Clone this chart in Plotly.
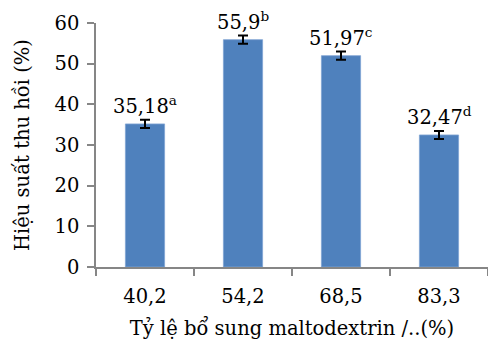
import plotly.graph_objects as go

# Recovery yield at each maltodextrin addition level
categories = ["40,2", "54,2", "68,5", "83,3"]
yield_pct = [35.18, 55.9, 51.97, 32.47]
yield_err = [1.0, 1.0, 1.0, 1.0]
letters = ["a", "b", "c", "d"]

FONT = "DejaVu Serif"
SIZE = 19.5
BAR = "#4F81BD"
AXIS = "#868686"

fig = go.Figure()
fig.add_trace(go.Bar(
    x=categories,
    y=yield_pct,
    marker=dict(color=BAR, line=dict(color="#7FA3D3", width=0.8)),
    error_y=dict(type="data", array=yield_err, visible=True,
                 color="black", thickness=2, width=5),
))

# value labels with significance letters above each error bar
for c, v, e, s in zip(categories, yield_pct, yield_err, letters):
    label = f"{v:g}".replace(".", ",")
    fig.add_annotation(
        x=c, y=v + e, text=f"{label}<sup>{s}</sup>",
        showarrow=False, yanchor="bottom", yshift=0,
        font=dict(family=FONT, size=SIZE, color="black"),
    )

fig.update_layout(
    width=488, height=349,
    margin=dict(l=96, r=0, t=23, b=82),
    paper_bgcolor="white", plot_bgcolor="white",
    bargap=0.6, showlegend=False,
    font=dict(family=FONT, size=SIZE, color="black"),
)
fig.update_xaxes(
    showline=True, linecolor=AXIS, linewidth=1.5,
    ticks="outside", tickson="boundaries", ticklen=7,
    tickcolor=AXIS, tickwidth=1.5, ticklabelstandoff=11,
    tickfont=dict(family=FONT, size=SIZE, color="black"),
    title=dict(text="Tỷ lệ bổ sung maltodextrin /..(%)",
               font=dict(family=FONT, size=SIZE, color="black"), standoff=14),
)
fig.update_yaxes(
    range=[0, 60], dtick=10, showgrid=False, zeroline=False,
    showline=True, linecolor=AXIS, linewidth=1.5,
    ticks="outside", ticklen=7, tickcolor=AXIS, tickwidth=1.5,
    ticklabelstandoff=4,
    tickfont=dict(family=FONT, size=SIZE, color="black"),
    title=dict(text="Hiệu suất thu hồi (%)",
               font=dict(family=FONT, size=SIZE, color="black"), standoff=20),
)

fig.write_html("out.html")
